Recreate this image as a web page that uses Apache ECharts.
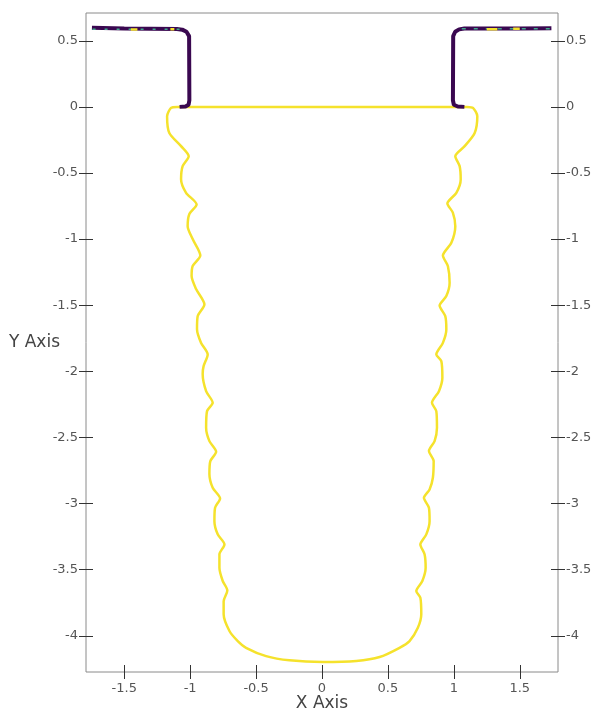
<!DOCTYPE html>
<html>
<head>
<meta charset="utf-8">
<script src="https://cdn.jsdelivr.net/npm/echarts@6/dist/echarts.min.js"></script>
<style>
  html, body { margin: 0; padding: 0; background: #fff; }
  #chart { width: 598px; height: 713px; }
</style>
</head>
<body>
<div id="chart"></div>
<script>
// axis ticks
const xTicks = [-1.5, -1, -0.5, 0, 0.5, 1, 1.5];
const yTicks = [0.5, 0, -0.5, -1, -1.5, -2, -2.5, -3, -3.5, -4];

// yellow contour (closed outline)
const contour = [
  [1.1, 0], [-1.1, 0], [-1.145, -0.008], [-1.175, -0.07], [-1.158, -0.197],
  [-1.069, -0.297], [-1.011, -0.373], [-1.057, -0.448], [-1.069, -0.547],
  [-1.031, -0.65], [-0.951, -0.738], [-1.006, -0.81], [-1.019, -0.902],
  [-0.981, -1.0], [-0.923, -1.124], [-0.981, -1.204], [-0.989, -1.28],
  [-0.955, -1.378], [-0.892, -1.494], [-0.943, -1.583], [-0.948, -1.681],
  [-0.917, -1.785], [-0.867, -1.872], [-0.898, -1.961], [-0.905, -2.021],
  [-0.879, -2.15], [-0.829, -2.238], [-0.872, -2.301], [-0.879, -2.427],
  [-0.854, -2.528], [-0.803, -2.609], [-0.847, -2.679], [-0.854, -2.777],
  [-0.829, -2.881], [-0.773, -2.961], [-0.811, -3.032], [-0.816, -3.133],
  [-0.791, -3.233], [-0.74, -3.309], [-0.778, -3.384], [-0.778, -3.486],
  [-0.753, -3.586], [-0.718, -3.658], [-0.746, -3.738], [-0.746, -3.838],
  [-0.702, -3.964], [-0.639, -4.04], [-0.576, -4.091], [-0.424, -4.154],
  [-0.247, -4.186], [0.006, -4.199], [0.26, -4.191], [0.437, -4.161],
  [0.588, -4.091], [0.664, -4.04], [0.727, -3.94], [0.753, -3.838],
  [0.746, -3.713], [0.715, -3.662], [0.761, -3.586], [0.786, -3.486],
  [0.778, -3.384], [0.746, -3.309], [0.791, -3.233], [0.816, -3.133],
  [0.811, -3.032], [0.773, -2.957], [0.816, -2.893], [0.841, -2.805],
  [0.847, -2.679], [0.811, -2.603], [0.854, -2.528], [0.872, -2.427],
  [0.867, -2.301], [0.834, -2.238], [0.887, -2.15], [0.913, -2.049],
  [0.905, -1.923], [0.867, -1.872], [0.917, -1.785], [0.943, -1.684],
  [0.935, -1.583], [0.892, -1.502], [0.943, -1.431], [0.968, -1.331],
  [0.955, -1.205], [0.917, -1.124], [0.981, -1.028], [1.011, -0.902],
  [0.993, -0.801], [0.951, -0.73], [1.019, -0.65], [1.052, -0.549],
  [1.044, -0.448], [1.011, -0.373], [1.082, -0.297], [1.158, -0.197],
  [1.178, -0.07], [1.145, -0.008], [1.1, 0]
];

// dark step lines at the top corners
const leftStep = [
  [-1.745, 0.598], [-1.5, 0.592], [-1.1, 0.589], [-1.06, 0.584],
  [-1.028, 0.568], [-1.008, 0.535], [-1.006, 0.05], [-1.012, 0.016],
  [-1.035, 0.003], [-1.08, 0]
];
const rightStep = [
  [1.08, 0], [1.03, 0.003], [1.0, 0.016], [0.993, 0.05], [0.995, 0.535],
  [1.01, 0.568], [1.04, 0.586], [1.08, 0.592], [1.5, 0.593], [1.74, 0.594]
];
const leftTop = [[-1.74, 0.588], [-1.07, 0.588]];
const rightTop = [[1.06, 0.59], [1.74, 0.59]];
const yellowBits = [[[-1.45, 0.585], [-1.4, 0.585]], [[-1.15, 0.587], [-1.12, 0.587]],
                    [[1.25, 0.588], [1.33, 0.588]], [[1.45, 0.59], [1.5, 0.59]]];

const font = '"DejaVu Sans", sans-serif';
const chart = echarts.init(document.getElementById('chart'));

const xRange = { min: -1.79, max: 1.79 };
const yRange = { min: -4.274, max: 0.71 };
const tickLine = { color: '#333', width: 1 };
const labelStyle = { color: '#555', fontSize: 13, fontFamily: font, margin: 8 };
const nameStyle = { color: '#444', fontSize: 17, fontFamily: font };

// each side gets two axes: one with outward ticks + labels, one with inward ticks,
// so every tick looks like a small "+"
function axisOf(range, ticks, pos, inside, name) {
  return Object.assign({
    type: 'value', position: pos,
    splitLine: { show: false },
    axisLine: { show: false, onZero: false },
    axisTick: { show: true, inside: inside, length: 7, customValues: ticks, lineStyle: tickLine },
    axisLabel: Object.assign({ show: !inside, customValues: ticks }, labelStyle),
    name: name || '',
    nameLocation: 'middle',
    nameMoveOverlap: false
  }, range);
}

const yLeft = axisOf(yRange, yTicks, 'left', false, 'Y Axis');
yLeft.nameRotate = 0;
yLeft.nameGap = 26;
yLeft.nameTextStyle = nameStyle;

const xBottom = axisOf(xRange, xTicks, 'bottom', false, 'X Axis');
xBottom.nameGap = 23;
xBottom.nameTextStyle = nameStyle;
xBottom.axisLabel.margin = 10;

const series = [
  {
    type: 'line', data: contour, showSymbol: false, smooth: 0.25,
    lineStyle: { color: '#f5e22c', width: 2.5 }, z: 2
  },
  {
    type: 'line', data: leftStep, showSymbol: false,
    lineStyle: { color: '#3a0850', width: 4 }, z: 3
  },
  {
    type: 'line', data: rightStep, showSymbol: false,
    lineStyle: { color: '#3a0850', width: 4 }, z: 3
  },
  {
    type: 'line', data: leftTop, showSymbol: false,
    lineStyle: { color: '#3fa88a', width: 1.5, type: [3, 9] }, z: 4
  },
  {
    type: 'line', data: rightTop, showSymbol: false,
    lineStyle: { color: '#3fa88a', width: 1.5, type: [4, 8] }, z: 4
  }
];
yellowBits.forEach(function (seg) {
  series.push({
    type: 'line', data: seg, showSymbol: false,
    lineStyle: { color: '#f5e22c', width: 2.5 }, z: 5
  });
});

chart.setOption({
  animation: false,
  backgroundColor: '#fff',
  grid: {
    left: 86, right: 40, top: 13, bottom: 41,
    outerBoundsMode: 'none',
    show: true, borderColor: '#8a8a8a', borderWidth: 1
  },
  xAxis: [xBottom, axisOf(xRange, xTicks, 'bottom', true)],
  yAxis: [
    yLeft,
    axisOf(yRange, yTicks, 'right', false),
    axisOf(yRange, yTicks, 'left', true),
    axisOf(yRange, yTicks, 'right', true)
  ],
  series: series
});
</script>
</body>
</html>
